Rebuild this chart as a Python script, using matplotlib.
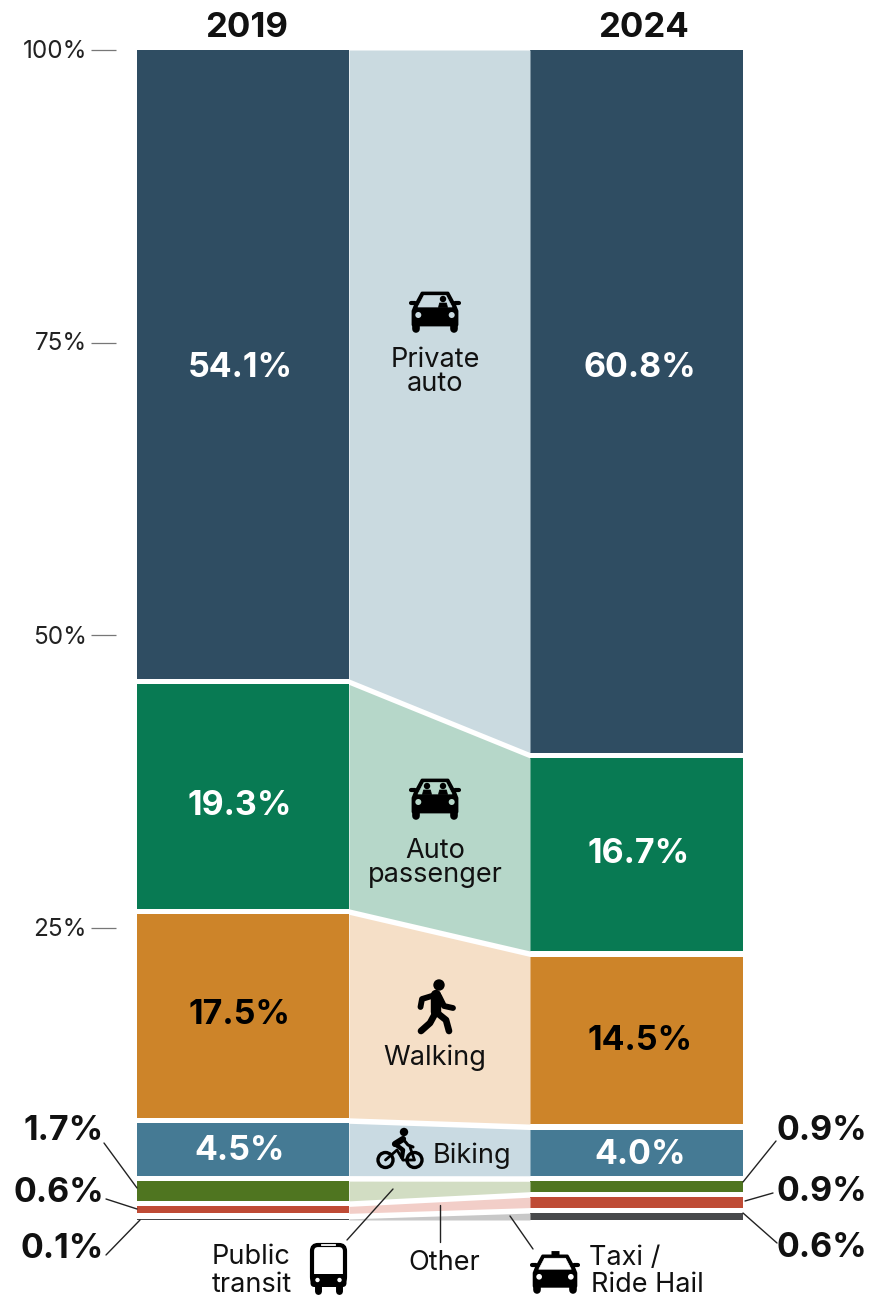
import matplotlib
matplotlib.use("Agg")
import matplotlib.pyplot as plt
from matplotlib.patches import Circle, FancyBboxPatch, Polygon

plt.rcParams['font.family'] = ['Inter', 'DejaVu Sans']

modes = ["Private auto", "Auto passenger", "Walking", "Biking",
         "Public transit", "Other", "Taxi / Ride Hail"]
share_2019 = [54.1, 19.3, 17.5, 4.5, 1.7, 0.6, 0.1]
share_2024 = [60.8, 16.7, 14.5, 4.0, 0.9, 0.9, 0.6]
years = ["2019", "2024"]
axis_ticks = [100, 75, 50, 25]

bar_colors = ["#2F4D62", "#087A53", "#CD8429", "#457A94", "#4F7520", "#BF4B35", "#48494B"]
flow_colors = ["#CADAE0", "#B6D7C9", "#F5DFC7", "#C9DAE2", "#D2DDC3", "#F2CEC8", "#C8C8C8"]

W, H = 878, 1298
TOP_PX, ZERO_PX = 50, 1220
PX_PER_PCT = (ZERO_PX - TOP_PX) / 100
GAP = 5.5 / PX_PER_PCT

LEFT_X = (137, 349)
RIGHT_X = (530, 743)

fig = plt.figure(figsize=(W / 100, H / 100), dpi=100)
fig.patch.set_facecolor("white")

# percent scale on y, pixels on x
ax = fig.add_axes([0, 0, 1, 1])
ax.set_xlim(0, W)
ax.set_ylim(-(H - ZERO_PX) / PX_PER_PCT, 100 + TOP_PX / PX_PER_PCT)
ax.axis("off")

# overlay in pixel coordinates for labels and icons
ov = fig.add_axes([0, 0, 1, 1])
ov.set_xlim(0, W)
ov.set_ylim(H, 0)
ov.axis("off")
ov.patch.set_alpha(0)


def stack_column(values):
    # segments plus gaps fill the full 0-100 range
    scale = (100 - GAP * (len(values) - 1)) / sum(values)
    tops, bottoms = [], []
    y = 100
    for v in values:
        tops.append(y)
        y -= v * scale
        bottoms.append(y)
        y -= GAP
    return tops, bottoms


tops_a, bots_a = stack_column(share_2019)
tops_b, bots_b = stack_column(share_2024)

for i in range(len(modes)):
    ax.fill_between(LEFT_X, bots_a[i], tops_a[i], color=bar_colors[i], lw=0)
    ax.fill_between(RIGHT_X, bots_b[i], tops_b[i], color=bar_colors[i], lw=0)
    ax.fill_between([LEFT_X[1], RIGHT_X[0]], [bots_a[i], bots_b[i]], [tops_a[i], tops_b[i]],
                    color=flow_colors[i], lw=0)

for t, y in zip(axis_ticks, (50, 342, 636, 928)):
    ov.text(87, y + 1, f"{t}%", ha="right", va="center", fontsize=17.5, color="#222222")
    ax.hlines(t, 91, 116, color="#777777", lw=0.9)

ov.text(247, 28, years[0], ha="center", va="center", fontsize=25, fontweight="bold", color="#111111")
ov.text(644, 28, years[1], ha="center", va="center", fontsize=25, fontweight="bold", color="#111111")

# value labels inside the columns
inside_a = [(240, 368, "white"), (240, 806, "white"), (240, 1015, "black"), (240, 1151, "white")]
inside_b = [(640, 368, "white"), (639, 854, "white"), (640, 1041, "black"), (640, 1155, "white")]
for i, (x, y, c) in enumerate(inside_a):
    ov.text(x, y, f"{share_2019[i]}%", ha="center", va="center", fontsize=24.5, fontweight="bold", color=c)
for i, (x, y, c) in enumerate(inside_b):
    ov.text(x, y, f"{share_2024[i]}%", ha="center", va="center", fontsize=24.5, fontweight="bold", color=c)

# small shares sit outside with leader lines
outside_y_a = [1131, 1193, 1249]
outside_y_b = [1131, 1192, 1248]
for i, y in enumerate(outside_y_a):
    ov.text(104, y, f"{share_2019[4 + i]}%", ha="right", va="center", fontsize=24.5, fontweight="bold", color="#111111")
for i, y in enumerate(outside_y_b):
    ov.text(777, y, f"{share_2024[4 + i]}%", ha="left", va="center", fontsize=24.5, fontweight="bold", color="#111111")

leaders = [((104, 1143), (137, 1188)), ((106, 1199), (137, 1209)), ((106, 1255), (140, 1220)),
           ((743, 1182), (776, 1141)), ((745, 1201), (773, 1193)), ((743, 1213), (777, 1243)),
           ((393, 1189), (347, 1240)), ((440, 1205), (440, 1242)), ((510, 1216), (533, 1249))]
for (x0, y0), (x1, y1) in leaders:
    ov.plot([x0, x1], [y0, y1], color="#222222", lw=1.0, solid_capstyle="round")

# category labels
label_kw = dict(fontsize=19.5, color="#111111", va="center")
ov.text(435, 360, "Private", ha="center", **label_kw)
ov.text(435, 384, "auto", ha="center", **label_kw)
ov.text(435, 851, "Auto", ha="center", **label_kw)
ov.text(435, 875, "passenger", ha="center", **label_kw)
ov.text(435, 1058, "Walking", ha="center", **label_kw)
ov.text(433, 1156, "Biking", ha="left", **label_kw)
ov.text(212, 1257, "Public", ha="left", **label_kw)
ov.text(212, 1285, "transit", ha="left", **label_kw)
ov.text(444, 1263, "Other", ha="center", **label_kw)
ov.text(589, 1258, "Taxi /", ha="left", **label_kw)
ov.text(591, 1285, "Ride Hail", ha="left", **label_kw)


def draw_car(cx, top, bg, seats=(), sign=False, k=1.0):
    def pts(lst):
        return [(cx + x * k, top + y * k) for x, y in lst]

    body = [(-13, 2), (13, 2), (20, 15), (22, 20), (22, 34), (-22, 34), (-22, 20), (-20, 15)]
    ov.add_patch(Polygon(pts(body), closed=True, fc="black", ec="black", lw=2, joinstyle="round"))
    for side in (-1, 1):
        # mirrors and wheels
        ov.plot([cx + side * 20 * k, cx + side * 24 * k], [top + 12 * k, top + 12 * k],
                color="black", lw=3, solid_capstyle="round")
        ov.plot([cx + side * 19 * k, cx + side * 19 * k], [top + 33 * k, top + 38 * k],
                color="black", lw=5.5, solid_capstyle="round")
        ov.add_patch(Circle((cx + side * 16.7 * k, top + 24 * k), 3 * k, fc=bg, ec="none"))
    window = [(-11, 4.5), (11, 4.5), (17, 16), (-17, 16)]
    ov.add_patch(Polygon(pts(window), closed=True, fc=bg, ec=bg, lw=0.5, joinstyle="round"))
    for sx in seats:
        ov.add_patch(Circle((cx + sx * k, top + 8 * k), 3.2 * k, fc="black", ec="none"))
        ov.add_patch(Polygon(pts([(sx - 4.5, 16.5), (sx - 3.5, 12), (sx + 3.5, 12), (sx + 4.5, 16.5)]),
                             closed=True, fc="black", ec="black", lw=0.5))
    if sign:
        ov.plot([cx - 4, cx + 4], [top - 1, top - 1], color="black", lw=3.5, solid_capstyle="butt")


def draw_walker(cx, top):
    ov.add_patch(Circle((cx, top + 6), 5.7, fc="black", ec="none"))
    strokes = [
        ([-4, -17, -18.5], [16, 20, 28], 4.2),
        ([0, 5, 14], [17, 27, 29], 4.2),
        ([-3, -3], [16, 33], 7.5),
        ([-3, -9, -18], [33, 44, 52], 4.8),
        ([-3, 7, 10], [33, 41, 52], 4.8),
    ]
    for xs, ys, lw in strokes:
        ov.plot([cx + x for x in xs], [top + y for y in ys], color="black", lw=lw,
                solid_capstyle="round", solid_joinstyle="round")


def draw_bike(cx, cy):
    for dx in (-14.5, 14.5):
        ov.add_patch(Circle((cx + dx, cy), 7.5, fc="none", ec="black", lw=2.4))
    ov.add_patch(Circle((cx + 4, cy - 28), 4.2, fc="black", ec="none"))
    for xs, ys, lw in [
        ([3, -5], [-21, -16], 4.5),
        ([-5, 3, 2], [-16, -10, -3], 3.2),
        ([3, 8, 13], [-21, -15, -13], 2.2),
        ([-14.5, -3, 3], [0, -10, 0], 2.0),
        ([3, 14.5, 10], [0, 0, -13], 2.0),
    ]:
        ov.plot([cx + x for x in xs], [cy + y for y in ys], color="black", lw=lw,
                solid_capstyle="round", solid_joinstyle="round")


def draw_bus(left, top):
    ov.add_patch(FancyBboxPatch((left + 2, top + 2), 33, 38, boxstyle="round,pad=0,rounding_size=6",
                                fc="white", ec="black", lw=3))
    ov.add_patch(FancyBboxPatch((left + 0.5, top + 31), 36, 13, boxstyle="round,pad=0,rounding_size=4",
                                fc="black", ec="none"))
    ov.plot([left + 12, left + 25], [top + 2, top + 2], color="white", lw=1.3)
    for dx in (8, 29):
        ov.plot([left + dx, left + dx], [top + 43, top + 48], color="black", lw=5, solid_capstyle="round")
    for dx in (7.5, 29.5):
        ov.add_patch(Circle((left + dx, top + 37), 2.2, fc="white", ec="none"))


draw_car(435, 291, flow_colors[0], seats=(8,))
draw_car(435, 778, flow_colors[1], seats=(-8, 8))
draw_walker(439, 979)
draw_bike(400, 1160)
draw_bus(310, 1243)
draw_car(555, 1254, "white", sign=True, k=0.95)

fig.savefig("out.png", dpi=100, facecolor="white")
